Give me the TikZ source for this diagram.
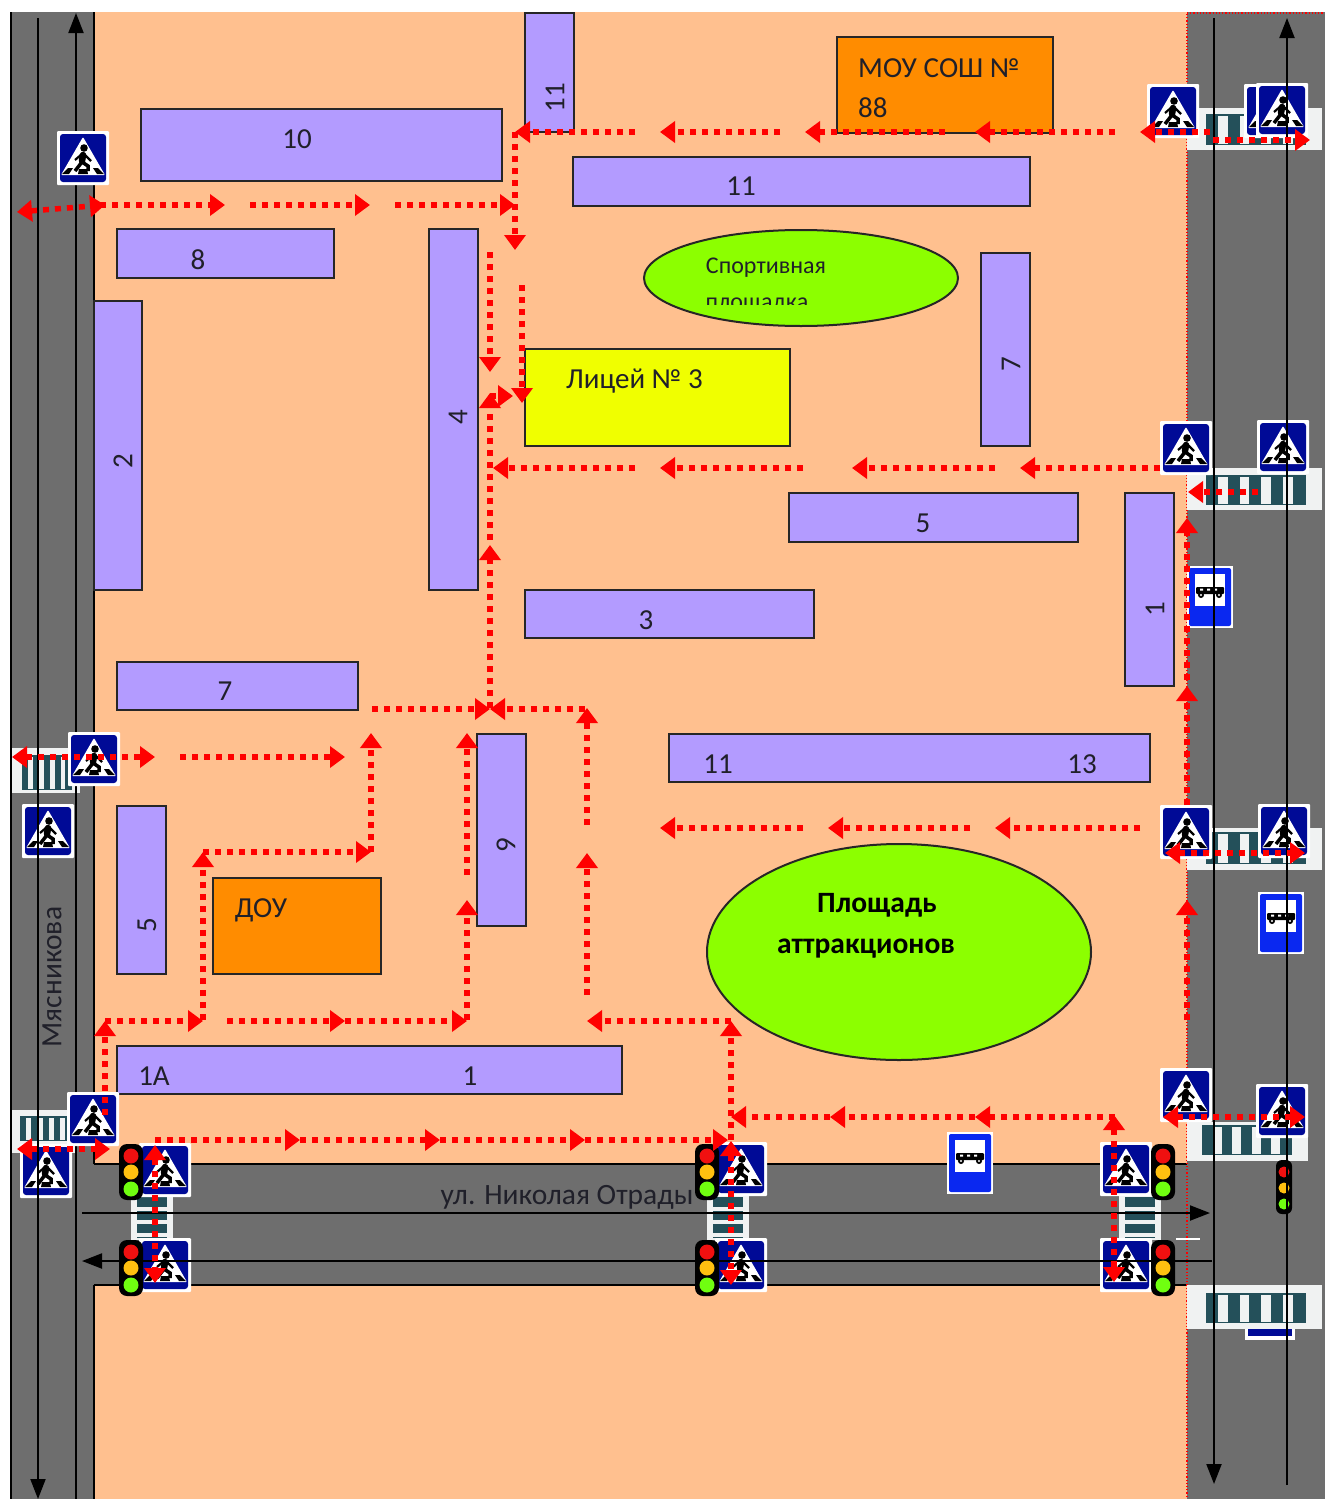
\documentclass[tikz,border=0pt]{standalone}
\usepackage{fontspec}
\setmainfont{Carlito}
\usetikzlibrary{arrows.meta}
\definecolor{peach}{HTML}{FFC08F}
\definecolor{asph}{HTML}{6E6E6E}
\definecolor{bldg}{HTML}{B39BFF}
\definecolor{orng}{HTML}{FF8C00}
\definecolor{yllw}{HTML}{F0FF00}
\definecolor{lime}{HTML}{8CFF00}
\definecolor{zdark}{HTML}{24505A}
\definecolor{signblue}{HTML}{000A96}
\definecolor{busblue}{HTML}{0A28F0}
\definecolor{zwhite}{HTML}{F0F2F2}
\definecolor{txt}{HTML}{20202A}
\definecolor{tlred}{HTML}{F01010}
\definecolor{tlamb}{HTML}{FFC010}
\definecolor{tlgrn}{HTML}{70FF10}
\tikzset{
  x=1pt,y=-1pt,
  bld/.style={draw=black!85,line width=2,fill=bldg},
  lbl/.style={inner sep=0,text=txt,font=\fontsize{29}{32}\selectfont},
  lblv/.style={lbl,rotate=90},
  walk/.style={draw=red,line width=5.5,dash pattern=on 6pt off 6pt,-{Triangle[length=15pt,width=21pt]}},
  walkb/.style={draw=red,line width=5.5,dash pattern=on 6pt off 6pt,{Triangle[length=15pt,width=21pt]}-{Triangle[length=15pt,width=21pt]}},
  rline/.style={draw=black,line width=2},
  rarrow/.style={rline,-{Triangle[length=20pt,width=15pt]}},
  ped/.pic={
    \fill[white,rounded corners=1] (-26,-27) rectangle (26,27);
    \fill[signblue,rounded corners=3] (-23,-24) rectangle (23,24);
    \fill[white,rounded corners=1] (0,-21) -- (22,17) -- (-22,17) -- cycle;
    \fill[black] (1,-10) circle (3.8);
    \draw[black,line width=6.5,line cap=round] (0,-3) -- (-1,3);
    \draw[black,line width=3.5] (-1,4) -- (-8,13);
    \draw[black,line width=3.5] (-1,4) -- (5,8) -- (5,13);
    \draw[black,line width=2.2] (1,-4) -- (8,3);
    \draw[black,line width=2.2] (-1,-4) -- (-8,2);
    \fill[black] (-21,16) -- (-15,10) -- (-10,10) -- (-14,16) -- cycle;
    \fill[black] (-5,16) -- (-4,11) -- (4,11) -- (5,16) -- cycle;
    \fill[black] (21,16) -- (15,10) -- (10,10) -- (14,16) -- cycle;
  },
  lights/.pic={
    \fill[black,rounded corners=8] (-12,-28) rectangle (12,28);
    \fill[tlred] (0,-16) circle (7.5);
    \fill[tlamb] (0,0) circle (7.5);
    \fill[tlgrn] (0,17) circle (7.5);
  },
  smalllights/.pic={
    \fill[black,rounded corners=6] (-8,-27) rectangle (8,27);
    \fill[tlred] (0,-15) circle (5.5);
    \fill[tlamb] (0,1) circle (5.5);
    \fill[tlgrn] (0,17) circle (5.5);
  },
  bus/.pic={
    \fill[white] (-23,-31) rectangle (23,31);
    \fill[busblue,rounded corners=2] (-21,-29) rectangle (21,29);
    \fill[white] (-15,-23) rectangle (15,9);
    \fill[black,rounded corners=1] (-14,-10) rectangle (14,-3);
    \fill[white] (-10,-8.5) rectangle (-7,-6.5) (-3,-8.5) rectangle (0,-6.5) (4,-8.5) rectangle (7,-6.5);
    \fill[black] (-9,-2) circle (3) (9,-2) circle (3);
    \fill[white] (-9,-2) circle (1.2) (9,-2) circle (1.2);
  }
}
% vertical-bar zebra: white x1 y1 x2 y2, bars x3 y3 x4 y4
\newcommand\zebraA[8]{%
  \fill[zwhite] (#1,#2) rectangle (#3,#4);
  \fill[zdark] (#5,#6) rectangle (#7,#8);
  \pgfmathsetmacro\zstep{(#7-#5)/4.6}
  \foreach \k in {0,1,2,3}{
    \fill[zwhite] ({#5+(\k+.55)*\zstep},{#6+1.5}) rectangle ({#5+(\k+1)*\zstep},{#8-1.5});
  }
}
% horizontal-bar zebra on the cross street
\newcommand\zebraB[4]{%
  \fill[zwhite] (#1,#2) rectangle (#3,#4);
  \fill[zdark] ({#1+6},{#2+2}) rectangle ({#3-6},{#4-2});
  \foreach \k in {0,1,2}{
    \fill[zwhite] ({#1+6},{#2+12+\k*13}) rectangle ({#3-6},{#2+16+\k*13});
  }
}
\begin{document}
\begin{tikzpicture}
\useasboundingbox (0,0) rectangle (1325,1499);
\fill[white] (0,0) rectangle (1325,1499);
% ground and roads
\fill[peach] (94,12) rectangle (1187,1499);
\fill[asph] (11,12) rectangle (94,1499);
\fill[asph] (1187,12) rectangle (1325,1499);
\fill[asph] (94,1164) rectangle (1187,1285);
\draw[black,line width=2] (11,12) -- (11,1499);
\draw[black,line width=2] (94,12) -- (94,1164) (94,1285) -- (94,1499);
\draw[black,line width=2] (94,1164) -- (1187,1164) (94,1285) -- (1187,1285);
\draw[red,line width=1.2,dotted] (1187,14) -- (1187,1499) (1187,13) -- (1325,13);
% remains of a bus stop under the lower zebra
\fill[white] (1245,1300) rectangle (1295,1340);
\fill[signblue] (1248,1320) rectangle (1292,1336);
% zebras
\zebraA{1187}{108}{1322}{150}{1206}{114}{1306}{145}
\zebraA{1187}{468}{1322}{510}{1206}{475}{1306}{505}
\zebraA{1187}{828}{1322}{870}{1206}{832}{1306}{864}
\zebraA{1187}{1122}{1308}{1161}{1202}{1125}{1292}{1155}
\zebraA{1187}{1285}{1322}{1329}{1206}{1293}{1306}{1323}
\zebraA{12}{748}{80}{793}{22}{755}{72}{790}
\zebraA{12}{1110}{75}{1153}{20}{1116}{72}{1141}
\zebraB{131}{1195}{173}{1240}
\zebraB{707}{1195}{749}{1240}
\zebraB{1119}{1195}{1161}{1240}
\fill[white] (1176,1238) rectangle (1200,1240);
% buildings
\draw[bld] (141,109) rectangle (502,181);
\draw[bld] (525,13) rectangle (574,132);
\draw[bld] (573,157) rectangle (1030,206);
\draw[bld] (117,229) rectangle (334,278);
\draw[bld] (94,301) rectangle (142,590);
\draw[bld] (429,229) rectangle (478,590);
\draw[bld] (981,253) rectangle (1030,446);
\draw[bld] (789,493) rectangle (1078,542);
\draw[bld] (1125,493) rectangle (1174,686);
\draw[bld] (525,590) rectangle (814,638);
\draw[bld] (117,662) rectangle (358,710);
\draw[bld] (669,734) rectangle (1150,782);
\draw[bld] (477,734) rectangle (526,926);
\draw[bld] (117,806) rectangle (166,974);
\draw[bld] (117,1046) rectangle (622,1094);
\draw[bld,fill=orng] (837,37) rectangle (1053,133);
\draw[bld,fill=orng] (213,878) rectangle (381,974);
\draw[bld,fill=yllw] (525,349) rectangle (790,446);
\draw[bld,fill=lime] (801,278) ellipse [x radius=157,y radius=48];
\draw[bld,fill=lime] (899,952) ellipse [x radius=192,y radius=108];
% labels
\node[lbl] (t10) at (297,139) {10};
\node[lblv] (t11a) at (555,98) {11};
\node[lbl] (t11b) at (741,186) {11};
\node[lbl,anchor=west] (tsch) at (858,68) {МОУ СОШ №};
\node[lbl,anchor=west] (tsch2) at (858,108) {88};
\node[lbl] (t8) at (198,260) {8};
\node[lblv] (t2) at (123,461) {2};
\node[lblv] (t4) at (458,417) {4};
\node[lblv] (t7a) at (1011,364) {7};
\node[lbl,anchor=west] (tlyc) at (566,381) {Лицей № 3};
\node[lbl] (t5a) at (923,523) {5};
\node[lblv] (t1a) at (1155,609) {1};
\node[lbl] (t3) at (646,620) {3};
\node[lbl] (t7b) at (225,691) {7};
\node[lbl] (t11c) at (718,764) {11};
\node[lbl] (t13) at (1082,764) {13};
\node[lblv] (t9) at (506,845) {9};
\node[lblv] (t5b) at (147,925) {5};
\node[lbl] (tdou) at (261,910) {ДОУ};
\node[lbl] (t1A) at (154,1076) {1А};
\node[lbl] (t1b) at (470,1076) {1};
\node[lbl,font=\fontsize{24}{26}\selectfont] (tsp) at (766,268) {Спортивная};
\begin{scope}
\clip (700,285) rectangle (830,304);
\node[lbl,font=\fontsize{24}{26}\selectfont] (tsp2) at (757,306) {площадка};
\end{scope}
\node[lbl,font=\bfseries\fontsize{29.5}{32}\selectfont,text=black] (tpl1) at (877,905) {Площадь};
\node[lbl,font=\bfseries\fontsize{29.5}{32}\selectfont,text=black] (tpl2) at (866,949) {аттракционов};
\node[lblv,font=\fontsize{29.5}{32}\selectfont] (tmyas) at (52,977) {Мясникова};
\node[lbl,font=\fontsize{29.5}{32}\selectfont] (totr) at (567,1197) {ул. Николая Отрады};
% line under the signs
\draw[rarrow] (76,1499) -- (76,13);
% partly hidden signs, bus stops
\pic (behind) at (1270,111) {ped};
\pic (bus1) at (1210,597) {bus};
\pic (bus2) at (1281,923) {bus};
\pic (bus3) at (970,1163) {bus};
% pedestrian signs
\foreach \i/\px/\py in {a/83/158,b/1173/111,c/1282/110,d/1186/448,e/1283/447,f/94/759,g/48/831,h/1186/832,i/1284/831,j/1186/1095,k/1282/1111,l/93/1119,m/46/1171,n/165/1170,o/165/1265,p/741/1169,q/741/1265,r/1126/1169,s/1126/1265}{
  \pic (ped\i) at (\px,\py) {ped};
}
% lines over the signs
\draw[rarrow] (38,18) -- (38,1499);
\draw[rarrow] (1214,18) -- (1214,1484);
\draw[rarrow] (1287,1485) -- (1287,18);
\draw[rarrow] (82,1213) -- (1210,1213);
\draw[rarrow] (1212,1261) -- (82,1261);
% traffic lights
\foreach \i/\px/\py in {a/131/1172,b/131/1268,c/707/1172,d/707/1268,e/1163/1172,f/1163/1268}{
  \pic (tl\i) at (\px,\py) {lights};
}
\pic (tlg) at (1284,1187) {smalllights};
\draw[black,line width=2] (1287,1155) -- (1287,1215);
% walking routes
\foreach \a/\b/\c/\d in {
 1115/132/975/132, 945/132/805/132, 780/132/660/132, 635/132/515/132,
 515/132/515/250,
 100/205/225/205, 250/205/370/205, 395/205/515/205,
 490/252/490/372, 522/285/522/403,
 490/708/490/545, 490/540/490/393, 490/396/513/396,
 1160/468/1020/468, 995/468/852/468, 803/468/660/468, 635/468/493/468,
 1258/492/1188/492,
 1187/805/1187/686, 1187/680/1187/518, 1187/1020/1187/900,
 372/709/490/709, 585/709/490/709, 587/825/587/708, 587/995/587/853,
 467/875/467/733, 467/1020/467/900,
 180/757/345/757,
 371/852/371/733, 203/852/371/852, 203/1020/203/852,
 105/1021/203/1021, 227/1021/345/1021, 345/1021/467/1021, 105/1115/105/1021,
 731/1021/587/1021, 731/1140/731/1021,
 1115/1117/975/1117, 975/1117/830/1117, 830/1117/731/1117,
 1140/828/995/828, 970/828/828/828, 803/828/660/828,
 155/1140/300/1140, 300/1140/440/1140, 440/1140/585/1140, 585/1140/728/1140,
 1210/132/1140/132, 1213/140/1310/140}{
  \draw[walk] (\a,\b) -- (\c,\d);
}
\foreach \a/\b/\c/\d in {
 17/212/105/205, 12/757/155/757, 17/1149/110/1149,
 1165/853/1305/853, 1163/1117/1305/1117,
 155/1145/155/1283, 731/1141/731/1285, 1114/1115/1114/1282}{
  \draw[walkb] (\a,\b) -- (\c,\d);
}
\end{tikzpicture}
\end{document}
